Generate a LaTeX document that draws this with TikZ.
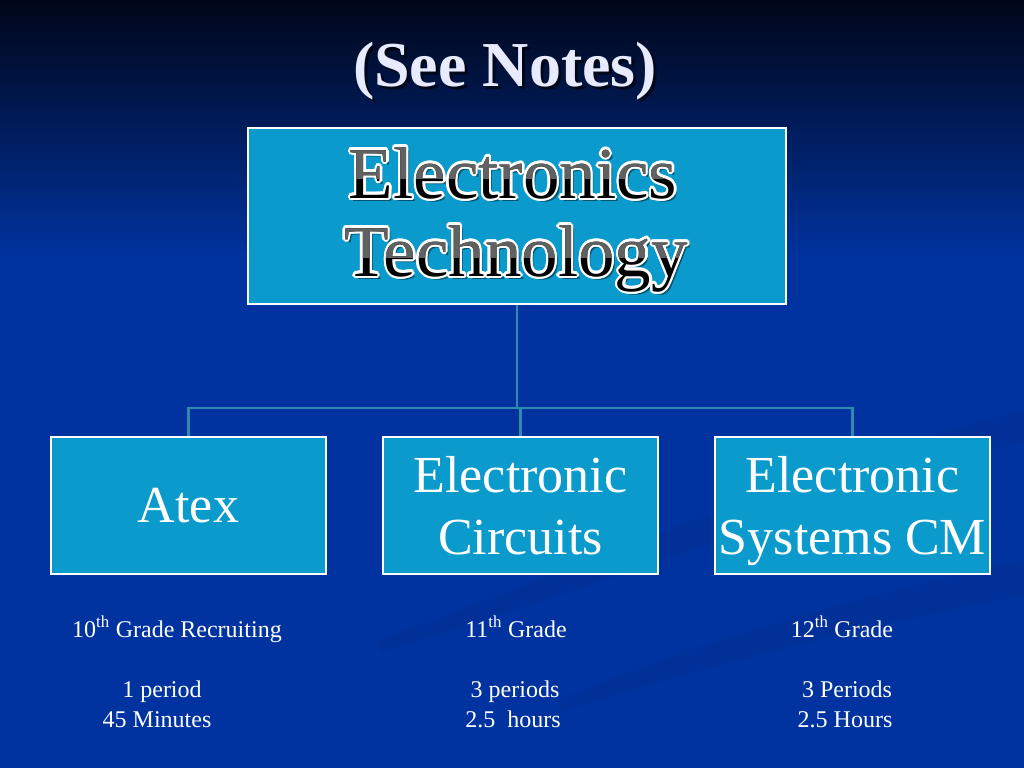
\documentclass[tikz,border=0pt]{standalone}
\usepackage{fontspec}
\setmainfont{Liberation Serif}
\usepackage{tikz}
\usetikzlibrary{positioning}

\definecolor{bgtop}{HTML}{000618}
\definecolor{bgmain}{HTML}{0033A0}
\definecolor{boxfill}{HTML}{0A9ACB}
\definecolor{linkcol}{HTML}{2A8DB0}
\definecolor{titlecol}{HTML}{E8EAFF}
\definecolor{swoosh}{HTML}{002C8C}

% one line of the outlined heading: white rim, black letters
\newcommand{\rimline}[3]{%
  \node[fancy, text=black, opacity=.45, shift={(3,3)}] (#1s) at (#2) {#3};
  \foreach \a in {0,22.5,...,337.5}
    \node[fancy, text=white, shift={(\a:2.3)}] (#1r\a) at (#2) {#3};
  \node[fancy, text=black] (#1) at (#2) {#3};
}

\begin{document}
\begin{tikzpicture}[x=1pt, y=-1pt,
    box/.style={draw=white, line width=2.5pt, fill=boxfill, inner sep=0pt,
      minimum width=275pt, minimum height=137pt, text=white, align=center,
      text depth=0pt, font=\fontsize{52}{62}\selectfont},
    fancy/.style={anchor=base, inner sep=0pt, font=\fontsize{73}{78}\selectfont},
    link/.style={draw=linkcol, line width=2.5pt},
    note/.style={anchor=base, inner sep=0pt, text=white, font=\fontsize{24}{30}\selectfont}]
  \useasboundingbox (0,0) rectangle (1024,768);

  % background
  \shade[top color=bgtop, bottom color=bgmain] (0,0) rectangle (1024,260);
  \fill[bgmain] (0,259) rectangle (1024,768);
  \fill[swoosh, opacity=.4] (1024,410) .. controls (800,470) and (600,560) .. (380,640)
    -- (380,652) .. controls (620,580) and (820,500) .. (1024,440) -- cycle;
  \fill[swoosh, opacity=.4] (1024,560) .. controls (850,600) and (700,640) .. (560,700)
    -- (560,712) .. controls (720,660) and (870,625) .. (1024,595) -- cycle;

  % title
  \node[anchor=base, text=black, opacity=.6, font=\bfseries\fontsize{64}{70}\selectfont]
    (titles) at (508,89) {(See Notes)};
  \node[anchor=base, text=titlecol, font=\bfseries\fontsize{64}{70}\selectfont]
    (title) at (505,86) {(See Notes)};

  % boxes
  \node[box, minimum width=538pt, minimum height=176pt] (tech) at (517,216) {};
  \rimline{elec}{513,198}{Electronics}
  \rimline{techno}{516,276}{Technology}
  \begin{scope}
    \clip (250,130) rectangle (785,178) (250,215) rectangle (785,257);
    \node[fancy, text=black!62] (elecg) at (513,198) {Electronics};
    \node[fancy, text=black!62] (technog) at (516,276) {Technology};
  \end{scope}

  \node[box] (atex) at (188.5,505.5) {Atex};
  \node[box] (circ) [right=54.5pt of atex] {Electronic\\Circuits};
  \node[box] (sys) [right=54.5pt of circ] {Electronic\\Systems CM};

  % connectors
  \coordinate (bus) at (517,408);
  \path[link] (tech.south) -- (bus);
  \path[link] (bus) -| (atex.north);
  \path[link] (bus) -| (circ.north);
  \path[link] (bus) -| (sys.north);

  % notes
  \node[note] (g10) at (177,637) {10\textsuperscript{th} Grade Recruiting};
  \node[note] (p10) at (162,697) {1 period};
  \node[note] (h10) at (157,727) {45 Minutes};
  \node[note] (g11) at (516,637) {11\textsuperscript{th} Grade};
  \node[note] (p11) at (515,697) {3 periods};
  \node[note] (h11) at (513,727) {2.5\ \ hours};
  \node[note] (g12) at (842,637) {12\textsuperscript{th} Grade};
  \node[note] (p12) at (847,697) {3 Periods};
  \node[note] (h12) at (845,727) {2.5 Hours};
\end{tikzpicture}
\end{document}
